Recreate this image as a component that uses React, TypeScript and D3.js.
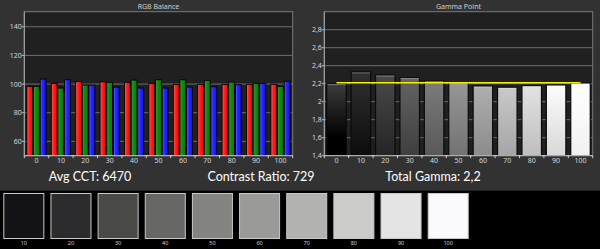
import React from "react";
import * as d3 from "d3";

const categories = [0, 10, 20, 30, 40, 50, 60, 70, 80, 90, 100];
const redValues = [98.4, 100.5, 101.8, 101.6, 101.2, 100.5, 99.8, 99.8, 99.8, 99.8, 99.8];
const greenValues = [98.4, 97.2, 99.3, 101.2, 102.8, 103, 103, 102.6, 101.4, 100.5, 98.4];
const blueValues = [103.5, 103, 99.3, 97.9, 97.2, 97.2, 97.9, 98.1, 99.5, 100.5, 102];
const rgbTicks = [60, 80, 100, 120, 140];
const gammaValues = [2.2, 2.33, 2.296, 2.267, 2.23, 2.21, 2.174, 2.16, 2.178, 2.185, 2.207];
const gammaTicks = [1.4, 1.6, 1.8, 2.0, 2.2, 2.4, 2.6, 2.8];
const targetGamma = [2.21];
const swatchLabels = [10, 20, 30, 40, 50, 60, 70, 80, 90, 100];
const swatchColors = ["#131216", "#2c2b2d", "#4a4b47", "#676865", "#838480", "#9a9b99", "#b2b3b1", "#cbccca", "#e4e4e4", "#fafafd"];
const statLabels = ["Avg CCT: 6470", "Contrast Ratio: 729", "Total Gamma: 2,2"];

const W = 600;
const H = 249;
const PLOT_TOP = 11.7;
const PLOT_BOTTOM = 155.7;
const LABEL_FONT = "'Noto Sans', 'DejaVu Sans', sans-serif";

const fmtComma = (v: number) => {
  const s = d3.format("~g")(+v.toFixed(1));
  return s.replace(".", ",");
};

function Frame({ x0, x1, xScale, yTicks, yScale, fmt, title }: any) {
  return (
    <g>
      <rect x={x0} y={PLOT_TOP} width={x1 - x0} height={PLOT_BOTTOM - PLOT_TOP} fill="#202020" stroke="#7a7a7a" strokeWidth={1} />
      {yTicks.map((t: number) => (
        <g key={t}>
          <line x1={x0} x2={x1} y1={yScale(t)} y2={yScale(t)} stroke="#6e6e6e" strokeWidth={1} />
          <line x1={x0 - 2.5} x2={x0} y1={yScale(t)} y2={yScale(t)} stroke="#bbbbbb" strokeWidth={1} />
          <text x={x0 - 2.5} y={yScale(t)} dy="0.35em" textAnchor="end" fontSize={7} fill="#d8d8d8" fontFamily={LABEL_FONT}>
            {fmt(t)}
          </text>
        </g>
      ))}
      <text x={(x0 + x1) / 2} y={9} textAnchor="middle" fontSize={7} fill="#cfcfcf" fontFamily={LABEL_FONT}>
        {title}
      </text>
    </g>
  );
}

function XAxis({ x0, x1, xScale }: any) {
  const bw = xScale.bandwidth();
  return (
    <g>
      <line x1={x0} x2={x1} y1={PLOT_BOTTOM} y2={PLOT_BOTTOM} stroke="#d0d0d0" strokeWidth={1} />
      <line x1={x0} x2={x0} y1={PLOT_TOP} y2={PLOT_BOTTOM} stroke="#a8a8a8" strokeWidth={1} />
      {categories.map((c, i) => (
        <g key={c}>
          {i > 0 && (
            <line x1={xScale(c)} x2={xScale(c)} y1={PLOT_BOTTOM} y2={PLOT_BOTTOM + 2.5} stroke="#cccccc" strokeWidth={1} />
          )}
          <text x={xScale(c) + bw / 2} y={163.2} textAnchor="middle" fontSize={7} fill="#d8d8d8" fontFamily={LABEL_FONT}>
            {c}
          </text>
        </g>
      ))}
      <line x1={x0} x2={x0} y1={PLOT_BOTTOM} y2={PLOT_BOTTOM + 2.5} stroke="#cccccc" strokeWidth={1} />
      <line x1={x1} x2={x1} y1={PLOT_BOTTOM} y2={PLOT_BOTTOM + 2.5} stroke="#cccccc" strokeWidth={1} />
    </g>
  );
}

function RgbChart() {
  const x0 = 24.3;
  const x1 = 292.7;
  const x = d3.scaleBand<number>().domain(categories).range([x0, x1]).padding(0);
  const y = d3.scaleLinear().domain([50, 150.5]).range([PLOT_BOTTOM, PLOT_TOP]);
  const inner = d3.scaleBand<string>().domain(["r", "g", "b"]).range([2.6, x.bandwidth() - 2.6]).paddingInner(0.12);
  const series = [
    { key: "r", values: redValues, fill: "url(#gradR)" },
    { key: "g", values: greenValues, fill: "url(#gradG)" },
    { key: "b", values: blueValues, fill: "url(#gradB)" },
  ];
  return (
    <g>
      <Frame x0={x0} x1={x1} xScale={x} yTicks={rgbTicks} yScale={y} fmt={(v: number) => String(v)} title="RGB Balance" />
      {categories.map((c, i) =>
        series.map((s) => (
          <rect
            key={c + s.key}
            x={(x(c) as number) + (inner(s.key) as number)}
            y={y(s.values[i])}
            width={inner.bandwidth()}
            height={PLOT_BOTTOM - y(s.values[i])}
            fill={s.fill}
            stroke="#000"
            strokeWidth={0.9}
          />
        ))
      )}
      <XAxis x0={x0} x1={x1} xScale={x} />
    </g>
  );
}

function GammaChart() {
  const x0 = 324.3;
  const x1 = 592.7;
  const x = d3.scaleBand<number>().domain(categories).range([x0, x1]).padding(0);
  const bars = d3.scaleBand<number>().domain(categories).range([x0, x1]).paddingInner(0.2).paddingOuter(0.1);
  const y = d3.scaleLinear().domain([1.4, 3.0]).range([PLOT_BOTTOM, PLOT_TOP]);
  const line = d3
    .line<number>()
    .x((c) => (x(c) as number) + x.bandwidth() / 2)
    .y(() => y(targetGamma[0]));
  return (
    <g>
      <defs>
        {categories.map((c) => {
          const g = 255 * (c / 100);
          const top = Math.min(255, g + (c === 0 ? 60 : 22));
          const bot = Math.max(0, g - 14);
          const cTop = d3.rgb(top, top, top).formatHex();
          const cBot = d3.rgb(bot, bot, bot).formatHex();
          return (
            <linearGradient key={c} id={"gg" + c} x1="0" y1="0" x2="0" y2="1">
              <stop offset="0" stopColor={cTop} />
              <stop offset={c === 0 ? "0.75" : "1"} stopColor={cBot} />
            </linearGradient>
          );
        })}
      </defs>
      <Frame x0={x0} x1={x1} xScale={x} yTicks={gammaTicks} yScale={y} fmt={fmtComma} title="Gamma Point" />
      {categories.map((c, i) => (
        <g key={c}>
          <rect
            x={bars(c)}
            y={y(gammaValues[i])}
            width={bars.bandwidth()}
            height={PLOT_BOTTOM - y(gammaValues[i])}
            fill={`url(#gg${c})`}
            stroke="#0a0a0a"
            strokeWidth={1.2}
          />
          <line
            x1={(bars(c) as number) + 0.6}
            x2={(bars(c) as number) + bars.bandwidth() - 0.6}
            y1={y(gammaValues[i]) + 0.9}
            y2={y(gammaValues[i]) + 0.9}
            stroke="#ffffff"
            strokeOpacity={0.45}
            strokeWidth={0.8}
          />
        </g>
      ))}
      <path d={line(categories) as string} stroke="#f2f200" strokeWidth={1.6} fill="none" />
      <XAxis x0={x0} x1={x1} xScale={x} />
    </g>
  );
}

function Swatches() {
  const s = d3.scaleBand<number>().domain(swatchLabels).range([3.3, 468.7]).paddingInner(0.13).paddingOuter(0);
  return (
    <g>
      <rect x={0} y={190.7} width={W} height={H - 190.7} fill="#000" />
      {swatchLabels.map((l, i) => (
        <g key={l}>
          <rect x={(s(l) as number) + 0.5} y={193.5} width={s.bandwidth() - 1} height={45} fill={swatchColors[i]} stroke="#c8c8c8" strokeWidth={1} />
          <text x={(s(l) as number) + s.bandwidth() / 2} y={245} textAnchor="middle" fontSize={5.5} fill="#d0d0d0" fontFamily={LABEL_FONT}>
            {l}
          </text>
        </g>
      ))}
    </g>
  );
}

export default function App() {
  const statX = [90, 261, 433];
  return (
    <svg width={W} height={H} style={{ position: "fixed", left: 0, top: 0, display: "block" }}>
      <defs>
        <linearGradient id="gradR" x1="0" y1="0" x2="1" y2="0">
          <stop offset="0" stopColor="#ff6a6a" />
          <stop offset="0.35" stopColor="#ff2424" />
          <stop offset="1" stopColor="#f00000" />
        </linearGradient>
        <linearGradient id="gradG" x1="0" y1="0" x2="1" y2="0">
          <stop offset="0" stopColor="#3aa83a" />
          <stop offset="0.35" stopColor="#168a16" />
          <stop offset="1" stopColor="#0a760a" />
        </linearGradient>
        <linearGradient id="gradB" x1="0" y1="0" x2="1" y2="0">
          <stop offset="0" stopColor="#6a6aff" />
          <stop offset="0.35" stopColor="#2a2aff" />
          <stop offset="1" stopColor="#1010e8" />
        </linearGradient>
      </defs>
      <rect x={0} y={0} width={W} height={H} fill="#323232" />
      <RgbChart />
      <GammaChart />
      {statLabels.map((t, i) => (
        <text key={t} x={statX[i]} y={181.3} textAnchor="middle" fontSize={12.5} fill="#ffffff" fontFamily="Lato, 'Open Sans', sans-serif">
          {t}
        </text>
      ))}
      <Swatches />
    </svg>
  );
}
